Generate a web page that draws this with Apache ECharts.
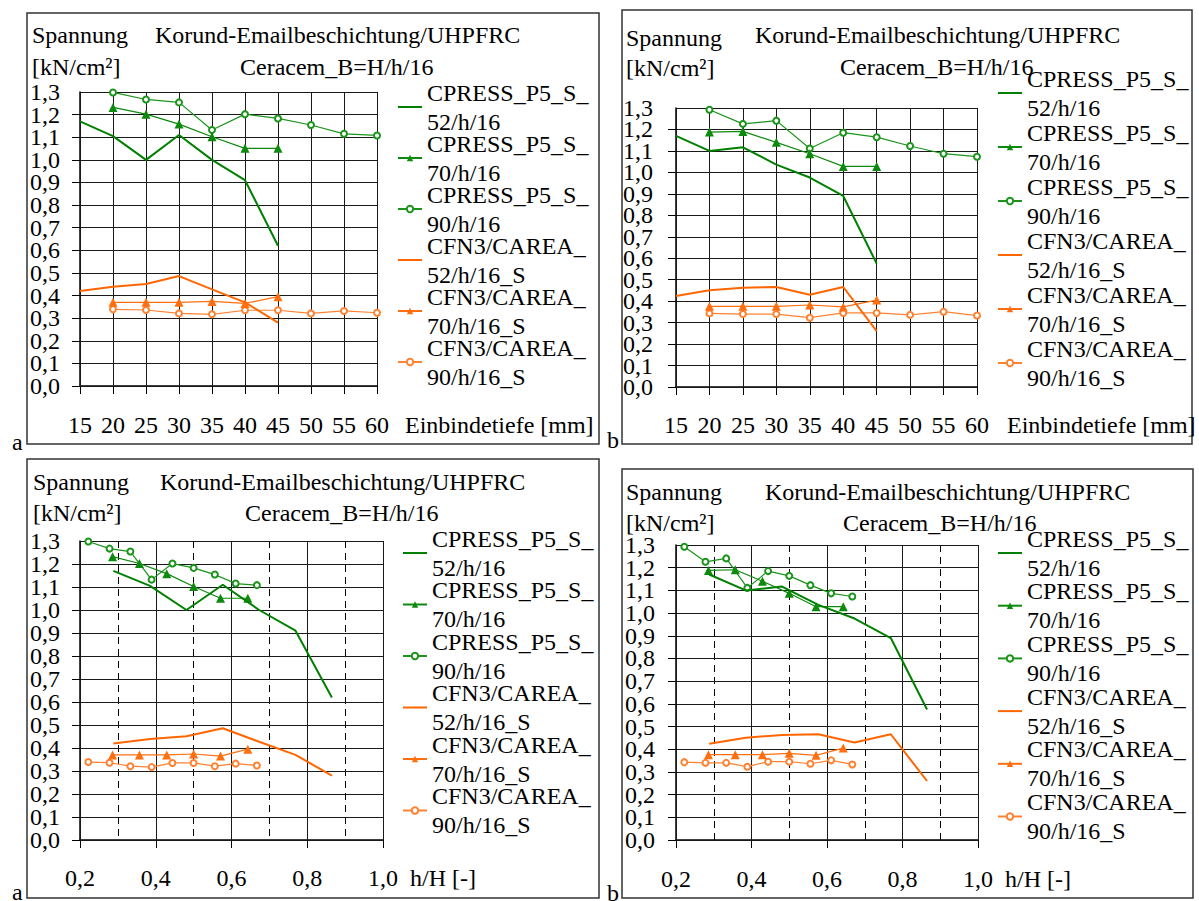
<!DOCTYPE html>
<html><head><meta charset="utf-8">
<script src="https://cdn.jsdelivr.net/npm/echarts@6/dist/echarts.min.js"></script>
<style>html,body{margin:0;padding:0;background:#fff}#c{width:1199px;height:901px}</style>
</head><body><div id="c"></div>
<script>
// ---------- DATA ----------
const seriesNames = ['CPRESS_P5_S_52/h/16','CPRESS_P5_S_70/h/16','CPRESS_P5_S_90/h/16','CFN3/CAREA_52/h/16_S','CFN3/CAREA_70/h/16_S','CFN3/CAREA_90/h/16_S'];
const legendLines = {
  'CPRESS_P5_S_52/h/16':'CPRESS_P5_S_\n52/h/16',
  'CPRESS_P5_S_70/h/16':'CPRESS_P5_S_\n70/h/16',
  'CPRESS_P5_S_90/h/16':'CPRESS_P5_S_\n90/h/16',
  'CFN3/CAREA_52/h/16_S':'CFN3/CAREA_\n52/h/16_S',
  'CFN3/CAREA_70/h/16_S':'CFN3/CAREA_\n70/h/16_S',
  'CFN3/CAREA_90/h/16_S':'CFN3/CAREA_\n90/h/16_S'
};
// Einbindetiefe [mm]
const depth52 = [15,20,25,30,35,40,45];
const depth70 = [20,25,30,35,40,45];
const depth90 = [20,25,30,35,40,45,50,55,60];
// h/H [-]
const hH52 = [0.288,0.385,0.481,0.577,0.673,0.769,0.865];
const hH70 = [0.286,0.357,0.429,0.500,0.571,0.643];
const hH90 = [0.222,0.278,0.333,0.389,0.444,0.500,0.556,0.611,0.667];
// set a (left charts)
const aCP52 = [1.170,1.105,1.000,1.110,1.000,0.910,0.620];
const aCP70 = [1.232,1.202,1.158,1.102,1.051,1.051];
const aCP90 = [1.298,1.267,1.254,1.132,1.202,1.183,1.154,1.115,1.108];
const aCF52 = [0.420,0.439,0.451,0.486,0.427,0.370,0.280];
const aCF70 = [0.370,0.370,0.370,0.374,0.365,0.395];
const aCF90 = [0.339,0.336,0.321,0.317,0.335,0.335,0.321,0.332,0.324];
// set b (right charts)
const bCP52 = [1.170,1.100,1.117,1.036,0.976,0.890,0.575];
const bCP70 = [1.188,1.191,1.140,1.087,1.028,1.028];
const bCP90 = [1.292,1.226,1.241,1.111,1.185,1.164,1.123,1.087,1.073];
const bCF52 = [0.424,0.451,0.463,0.466,0.430,0.466,0.260];
const bCF70 = [0.376,0.376,0.376,0.382,0.373,0.405];
const bCF90 = [0.343,0.340,0.340,0.323,0.345,0.345,0.336,0.351,0.333];
// ticks and tick labels
const yTickVals = [0,0.1,0.2,0.3,0.4,0.5,0.6,0.7,0.8,0.9,1.0,1.1,1.2,1.3];
const yTickLabels = ['0,0','0,1','0,2','0,3','0,4','0,5','0,6','0,7','0,8','0,9','1,0','1,1','1,2','1,3'];
const xTickValsDepth = [15,20,25,30,35,40,45,50,55,60];
const xTickLabelsDepth = ['15','20','25','30','35','40','45','50','55','60'];
const xTickValsHH = [0.2,0.4,0.6,0.8,1.0];
const xTickLabelsHH = ['0,2','0,4','0,6','0,8','1,0'];
// texts
const titleY = 'Spannung';
const unitY = '[kN/cm²]';
const title1 = 'Korund-Emailbeschichtung/UHPFRC';
const title2 = 'Ceracem_B=H/h/16';
const xNameDepth = 'Einbindetiefe [mm]';
const xNameHH = 'h/H [-]';
const panelLetters = ['a','b','a','b'];

// ---------- STYLE / LAYOUT ----------
const FONT = "'Liberation Serif', 'Times New Roman', serif";
const styles = [
  {color:'#008000', width:2,   symbol:'none',        size:0},
  {color:'#0d8a0d', width:1.2, symbol:'triangle',    size:9},
  {color:'#1a941a', width:1.2, symbol:'emptyCircle', size:6},
  {color:'#ff6600', width:2,   symbol:'none',        size:0},
  {color:'#ff6f0f', width:1.2, symbol:'triangle',    size:9},
  {color:'#ff8233', width:1.2, symbol:'emptyCircle', size:6}
];
const grids = [
  {left:80,  top:92,  width:297, height:294},
  {left:676, top:108, width:301, height:279},
  {left:80,  top:541, width:303, height:299},
  {left:676, top:545, width:302, height:295}
];
const frames = [[27,13,572,431],[622,10,570,434],[27,459,572,439],[622,469,571,429]];
const letterPos = [[12,442],[607,440],[12,892],[607,893]];
const textPos = [
  [[32,35],[32,67],[155,35],[240,67]],
  [[626,38],[626,68],[755,35],[840,67]],
  [[33,482],[33,513],[160,482],[245,513]],
  [[626,492],[626,523],[765,492],[843,523]]
];
const legendPos = [
  {left:397, top:63.5,  gap:-36},
  {left:997, top:49.5,  gap:-33},
  {left:402, top:509.5, gap:-35.5},
  {left:997, top:509.5, gap:-34.3}
];
const yLabelMargin = [20,23,20,21];
const xLabelMargin = [27,26,26,27];
const nameGaps = [28,30,27,27];

const txt = () => ({fontFamily:FONT, fontSize:24, color:'#000'});
const gridLine = () => ({color:'#1a1a1a', width:1});
const yLabel = parity => v => { const i = Math.round(v * 10); return i % 2 === parity ? yTickLabels[i] : ''; };

const xAxes = [], yAxes = [], series = [], legends = [], graphics = [];
for (let g = 0; g < 4; g++) {
  const isDepth = g < 2;
  const xa = {
    gridIndex:g, type:'value',
    axisLine:{show:true, onZero:false, lineStyle:{color:'#000', width:1.5}},
    axisTick:{show:true, length:8, lineStyle:{color:'#000', width:1}},
    axisLabel:Object.assign({margin:xLabelMargin[g]}, txt()),
    splitLine:{show:true, lineStyle:gridLine()},
    name: isDepth ? xNameDepth : xNameHH,
    nameLocation:'end', nameGap:nameGaps[g],
    nameTextStyle:Object.assign({verticalAlign:'top', align:'left', padding:[xLabelMargin[g],0,0,0]}, txt())
  };
  if (isDepth) {
    xa.min = 15; xa.max = 60; xa.interval = 5;
    xa.axisLabel.formatter = v => xTickLabelsDepth[Math.round((v-15)/5)];
  } else {
    xa.min = 0.2; xa.max = 1.0; xa.interval = 0.2;
    xa.axisLabel.formatter = v => xTickLabelsHH[Math.round((v-0.2)/0.2)];
    xa.minorTick = {show:false, splitNumber:2};
    xa.minorSplitLine = {show:true, lineStyle:{color:'#000', width:1, type:[7,5]}};
  }
  xAxes.push(xa);
  yAxes.push({
    gridIndex:g, type:'value', position:'left', min:0, max:1.3, interval:0.1,
    axisLine:{show:true, onZero:false, lineStyle:{color:'#000', width:1.5}},
    axisTick:{show:true, length:8, lineStyle:{color:'#000', width:1}},
    axisLabel:Object.assign({margin:yLabelMargin[g], showMinLabel:true, showMaxLabel:false, formatter:yLabel(0)}, txt()),
    splitLine:{show:true, lineStyle:gridLine()}
  });
  yAxes.push({
    gridIndex:g, type:'value', position:'left', offset:0, min:0, max:1.3, interval:0.1,
    axisLine:{show:false}, axisTick:{show:false}, splitLine:{show:false},
    axisLabel:Object.assign({margin:yLabelMargin[g], showMinLabel:false, showMaxLabel:true, formatter:yLabel(1)}, txt())
  });
  // grid lines drawn through the axes' scales
  const xGrid = isDepth ? xTickValsDepth : xTickValsHH;
  series.push({
    type:'line', xAxisIndex:g, yAxisIndex:2*g, data:[], silent:true, z:1,
    markLine:{silent:true, symbol:'none', animation:false, label:{show:false},
      lineStyle:{color:'#1a1a1a', width:1, type:'solid'},
      emphasis:{disabled:true},
      data: yTickVals.map(v => ({yAxis:v})).concat(xGrid.map(v => ({xAxis:v})))}
  });
  const isA = (g % 2 === 0);
  const ys = isA ? [aCP52,aCP70,aCP90,aCF52,aCF70,aCF90] : [bCP52,bCP70,bCP90,bCF52,bCF70,bCF90];
  const xs = isDepth ? [depth52,depth70,depth90,depth52,depth70,depth90] : [hH52,hH70,hH90,hH52,hH70,hH90];
  for (let s = 0; s < 6; s++) {
    const st = styles[s];
    series.push({
      type:'line', name:seriesNames[s], xAxisIndex:g, yAxisIndex:2*g,
      data: xs[s].map((x,i) => [x, ys[s][i]]),
      symbol:st.symbol, symbolSize:st.size, showSymbol: st.symbol !== 'none',
      lineStyle:{color:st.color, width:st.width},
      itemStyle:{color:st.color, borderWidth:1.2},
      z: 5 + (5 - s)
    });
  }
  legends.push({
    data:seriesNames.map((n,i) => styles[i].symbol === 'none' ? {name:n, itemStyle:{opacity:0}} : {name:n}),
    orient:'vertical', left:legendPos[g].left, top:legendPos[g].top,
    itemWidth:24, itemHeight:8, itemGap:legendPos[g].gap, padding:0, selectedMode:false,
    formatter: n => legendLines[n],
    textStyle:Object.assign({lineHeight:29, padding:[29,0,0,0]}, txt())
  });
  const f = frames[g];
  graphics.push({type:'rect', shape:{x:f[0], y:f[1], width:f[2], height:f[3]}, style:{fill:'none', stroke:'#333', lineWidth:1.5}, z:-1});
  const tp = textPos[g];
  [titleY, unitY, title1, title2].forEach((t,i) => {
    graphics.push({type:'text', x:tp[i][0], y:tp[i][1],
      style:{text:t, fill:'#000', font:'24px ' + FONT, verticalAlign:'middle', align:'left'}});
  });
  graphics.push({type:'text', x:letterPos[g][0], y:letterPos[g][1],
    style:{text:panelLetters[g], fill:'#000', font:'24px ' + FONT, verticalAlign:'middle', align:'left'}});
}

const chart = echarts.init(document.getElementById('c'), null, {renderer:'svg'});
chart.setOption({
  animation:false,
  grid:grids, xAxis:xAxes, yAxis:yAxes, series:series, legend:legends, graphic:graphics
});
</script></body></html>
